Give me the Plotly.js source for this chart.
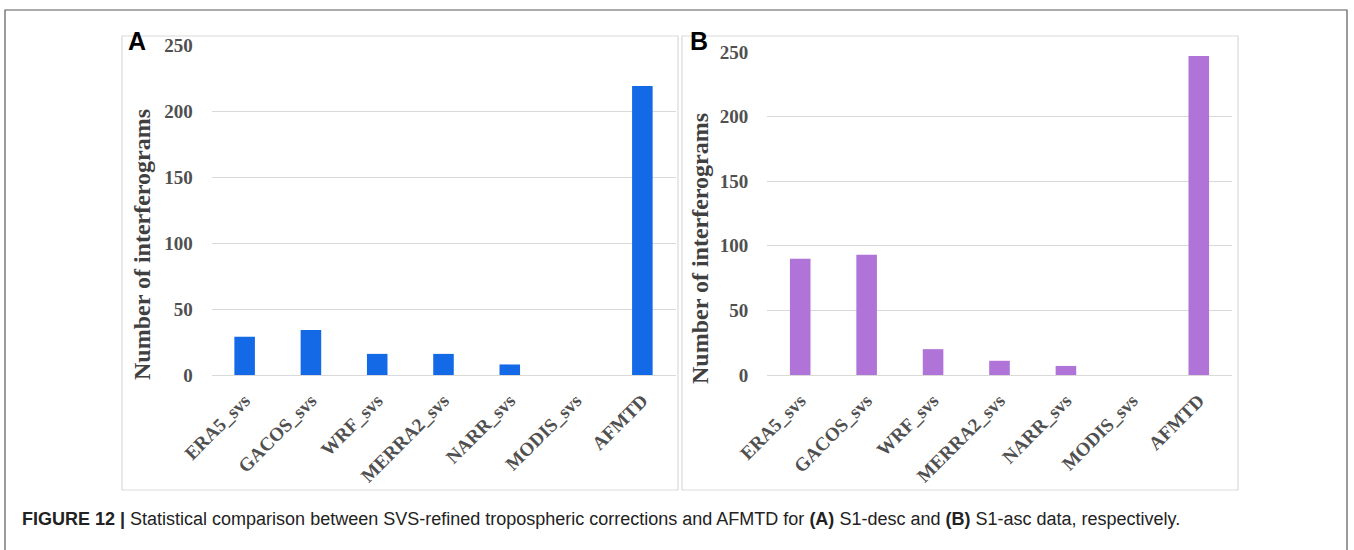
<!DOCTYPE html>
<html>
<head>
<meta charset="utf-8">
<script src="https://cdn.plot.ly/plotly-3.0.1.min.js"></script>
<style>html,body{margin:0;padding:0;background:#fff;}#chart{width:1354px;height:550px;}</style>
</head>
<body>
<div id="chart"></div>
<script>
const categories = ["ERA5_svs", "GACOS_svs", "WRF_svs", "MERRA2_svs", "NARR_svs", "MODIS_svs", "AFMTD"];
const descValues = [29, 34, 16, 16, 8, 0, 219];   // (A) S1-desc
const ascValues  = [90, 93, 20, 11, 7, 0, 247];   // (B) S1-asc
const yTicks = [0, 50, 100, 150, 200, 250];
const yTitle = "Number of interferograms";
const caption = "<b>FIGURE 12 |</b> Statistical comparison between SVS-refined tropospheric corrections and AFMTD for <b>(A)</b> S1-desc and <b>(B)</b> S1-asc data, respectively.";

const W = 1354, H = 550;
const px = v => v / W;
const py = v => 1 - v / H;

const tickFont = {family: "Liberation Serif, Times New Roman, serif", size: 19, color: "#505050", weight: "bold"};
const titleFont = {family: "Liberation Serif, Times New Roman, serif", size: 24, color: "#404040", weight: "bold"};

const traces = [
  {type: "bar", x: categories, y: descValues, xaxis: "x", yaxis: "y",
   marker: {color: "#1469e6"}, hoverinfo: "x+y", showlegend: false},
  {type: "bar", x: categories, y: ascValues, xaxis: "x2", yaxis: "y2",
   marker: {color: "#b074d8"}, hoverinfo: "x+y", showlegend: false}
];

function xAxis(domain, anchor) {
  return {domain: domain, anchor: anchor, type: "category", tickangle: -45,
    tickfont: tickFont, showgrid: false, showline: true, linecolor: "#d9d9d9", linewidth: 1,
    ticks: "outside", ticklen: 6, tickcolor: "rgba(0,0,0,0)", fixedrange: true};
}
function yAxis(domain, anchor) {
  return {domain: domain, anchor: anchor, range: [0, 250], tickvals: yTicks,
    tickfont: tickFont, showgrid: true, gridcolor: "#d9d9d9", gridwidth: 1, zeroline: false,
    showline: false, ticks: "outside", ticklen: 14, tickcolor: "rgba(0,0,0,0)", fixedrange: true};
}

const layout = {
  width: W, height: H,
  margin: {l: 0, r: 0, t: 0, b: 0},
  paper_bgcolor: "#ffffff", plot_bgcolor: "#ffffff",
  bargap: 0.69,
  xaxis: xAxis([px(211.5), px(675.5)], "y"),
  yaxis: yAxis([py(375), py(45)], "x"),
  xaxis2: xAxis([px(767), px(1232)], "y2"),
  yaxis2: yAxis([py(375), py(52)], "x2"),
  shapes: [
    {type: "rect", xref: "paper", yref: "paper", x0: px(5), x1: px(1347), y0: py(565), y1: py(10),
     line: {color: "#5a5a5a", width: 1.2}, fillcolor: "rgba(0,0,0,0)", layer: "below"},
    {type: "rect", xref: "paper", yref: "paper", x0: px(122), x1: px(678), y0: py(490), y1: py(36),
     line: {color: "#d9d9d9", width: 1.2}, fillcolor: "rgba(0,0,0,0)", layer: "below"},
    {type: "rect", xref: "paper", yref: "paper", x0: px(682), x1: px(1238), y0: py(490), y1: py(36),
     line: {color: "#d9d9d9", width: 1.2}, fillcolor: "rgba(0,0,0,0)", layer: "below"}
  ],
  annotations: [
    {text: yTitle, xref: "paper", yref: "paper", x: px(142), y: py(245), xanchor: "center", yanchor: "middle",
     textangle: -90, showarrow: false, font: titleFont},
    {text: yTitle, xref: "paper", yref: "paper", x: px(700), y: py(249), xanchor: "center", yanchor: "middle",
     textangle: -90, showarrow: false, font: titleFont},
    {text: "<b>A</b>", xref: "paper", yref: "paper", x: px(126), y: py(41), xanchor: "left", yanchor: "middle",
     showarrow: false, font: {family: "Liberation Sans, Arial, sans-serif", size: 25, color: "#000"}},
    {text: "<b>B</b>", xref: "paper", yref: "paper", x: px(688), y: py(41), xanchor: "left", yanchor: "middle",
     showarrow: false, font: {family: "Liberation Sans, Arial, sans-serif", size: 25, color: "#000"}},
    {text: caption, xref: "paper", yref: "paper", x: px(20), y: py(519), xanchor: "left", yanchor: "middle",
     showarrow: false, font: {family: "Liberation Sans, Arial, sans-serif", size: 18, color: "#222"}}
  ]
};

Plotly.newPlot("chart", traces, layout, {displayModeBar: false, staticPlot: true});
</script>
</body>
</html>
